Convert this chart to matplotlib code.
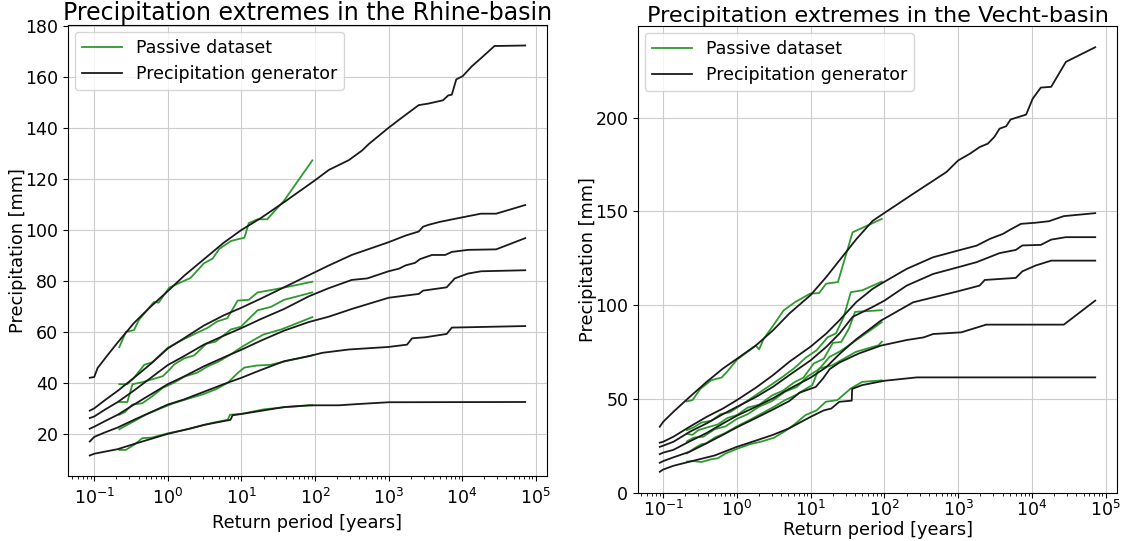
import matplotlib.pyplot as plt

# ---------------- Rhine basin ----------------
# precipitation generator (black), return period [years] / precipitation [mm]
rh_gen1_rp = [0.087, 0.1, 0.111, 0.151, 0.209, 0.347, 0.589, 1, 1.66, 3.09, 5.75, 10, 18.2, 38, 100, 155, 288, 437, 537,
              1000, 1380, 1860, 2570, 3470, 5500, 6460, 7240, 8320, 10200, 13500, 19000, 27500, 72000]
rh_gen1_mm = [42, 42.3, 45.8, 50.8, 55.9, 63.5, 70, 76, 82, 88.5, 95, 100, 104.6, 110.9, 119.5, 123.6, 127.4, 131.2, 133.7,
              140.1, 143.2, 146, 149, 149.6, 150.9, 152.8, 153.1, 159.1, 160.4, 164.2, 168, 172.2, 172.4]
rh_gen2_rp = [0.087, 0.1, 0.138, 0.209, 0.347, 0.589, 1, 1.66, 3.09, 5.75, 10, 18.2, 38, 83, 155, 316, 1000, 1700,
              2570, 2950, 3470, 5000, 9800, 18000, 29000, 72000]
rh_gen2_mm = [29.1, 30, 33.1, 36.9, 42, 47.5, 53.5, 57.5, 62.5, 66.5, 69.5, 73, 77.5, 82.3, 86.1, 90.2, 95.2, 97.8,
              99.4, 101.3, 102, 103.2, 104.9, 106.4, 106.4, 109.8]
rh_gen3_rp = [0.087, 0.1, 0.138, 0.209, 0.347, 0.589, 1, 1.66, 3.09, 5.75, 10, 18.2, 38, 83, 155, 316, 513, 1000,
              1380, 1700, 2290, 2690, 3890, 5890, 7240, 12000, 29000, 72000]
rh_gen3_mm = [26.2, 26.8, 29.4, 32.5, 37, 42, 47, 50.5, 55, 58.5, 61.5, 65, 69, 74, 77.2, 80.4, 81, 83.8,
              84.8, 86.1, 87.1, 88.6, 90.2, 90.2, 91.4, 92.2, 92.4, 96.8]
rh_gen4_rp = [0.087, 0.1, 0.138, 0.209, 0.347, 0.589, 1, 1.66, 3.09, 5.75, 10, 18.2, 38, 83, 155, 316, 1000, 1860,
              2570, 2950, 6170, 7940, 12000, 18200, 72000]
rh_gen4_mm = [22, 22.8, 24.9, 27.5, 31.5, 35.5, 39.5, 42.5, 46.5, 50, 53, 56.5, 60.5, 63.9, 66, 69, 73.4, 74.4,
              74.9, 76.2, 77.5, 81, 82.9, 83.8, 84.2]
rh_gen5_rp = [0.087, 0.1, 0.138, 0.209, 0.347, 0.589, 1, 1.66, 3.09, 5.75, 10, 18.2, 38, 83, 126, 288, 1000, 1780,
              2090, 3160, 6170, 7240, 72000]
rh_gen5_mm = [17, 18.8, 20.5, 22.5, 25.5, 28.5, 31.5, 33.5, 36.5, 39.5, 42, 45, 48.5, 50.5, 51.8, 53.1, 54.1, 55,
              57.5, 57.9, 59.2, 61.7, 62.3]
rh_gen6_rp = [0.087, 0.1, 0.209, 0.347, 0.589, 1, 1.66, 3.09, 5.75, 7.1, 7.6, 10, 18.2, 38, 83, 209, 389, 1000, 72000]
rh_gen6_mm = [11.5, 12.2, 14, 16, 18, 20, 21.5, 23.5, 25, 25.5, 27.3, 27.8, 29, 30.5, 31.2, 31.2, 31.7, 32.4, 32.5]

# passive dataset (green)
rh_pas1_rp = [0.219, 0.269, 0.347, 0.407, 0.646, 0.75, 1.05, 2.04, 3.09, 4.07, 5.01, 7.24, 11, 12.6, 16.6, 22.4, 38, 92]
rh_pas1_mm = [54, 60, 60.7, 64.8, 71.7, 71.5, 77.4, 81.2, 86.9, 88.8, 92.6, 95.7, 97, 102.7, 104.2, 104.2, 111.5, 127.3]
rh_pas2_rp = [0.219, 0.282, 0.347, 0.479, 0.617, 1, 1.66, 3.47, 4.68, 6.46, 8.9, 12.6, 16.6, 25.1, 38, 92]
rh_pas2_mm = [39.5, 39.5, 42, 47.1, 48.1, 53.8, 57.2, 61.6, 64.1, 65.4, 72.3, 72.6, 75.5, 76.4, 77.4, 79.7]
rh_pas3_rp = [0.219, 0.282, 0.331, 0.427, 0.851, 1, 1.23, 1.66, 2.29, 3.31, 4.47, 5.25, 7.24, 9.8, 16.6, 25.1, 38, 92]
rh_pas3_mm = [32.5, 32.5, 39.5, 40.1, 42.6, 44.5, 47.3, 49.6, 50.8, 55.3, 56.2, 57.8, 61, 62, 68.5, 69.8, 72.6, 75.5]
rh_pas4_rp = [0.219, 0.26, 0.33, 0.45, 0.6, 0.85, 1.2, 1.7, 2.5, 3.5, 5, 7, 10, 14, 20, 35, 92]
rh_pas4_mm = [27.5, 28.5, 31.5, 32, 34.5, 38, 40, 42.5, 44, 46.5, 48.5, 51, 54, 56.5, 59, 61, 65.8]
rh_pas5_rp = [0.219, 0.26, 0.35, 0.5, 0.8, 1.2, 2, 3, 4.5, 6.5, 9, 11, 16, 25, 40, 92]
rh_pas5_mm = [21.8, 23, 25, 27.5, 30, 32, 34, 35.5, 37.5, 40, 44, 46, 46.8, 47.1, 48.5, 50.8]
rh_pas6_rp = [0.219, 0.269, 0.348, 0.45, 0.6, 1, 2, 4, 6.5, 7, 10, 20, 40, 92]
rh_pas6_mm = [13.7, 13.7, 15.7, 18.3, 18.5, 20.2, 22, 24.3, 25.5, 27.5, 27.8, 29.6, 30.5, 31.2]

# ---------------- Vecht basin ----------------
ve_gen1_rp = [0.09, 0.1, 0.138, 0.229, 0.389, 0.646, 1, 1.82, 3.09, 5.13, 10, 16.2, 24.5, 41.7, 69.2, 107, 245, 692,
              1000, 1445, 1950, 2512, 3090, 3631, 4467, 5129, 8318, 10233, 13183, 18197, 28840, 72000]
ve_gen1_mm = [35.3, 37.9, 43.3, 51.2, 59.2, 66.3, 71.5, 78.7, 86.7, 95.6, 105.5, 115, 123.9, 135.3, 145, 150, 159.4, 171,
              177.2, 180.8, 184.3, 186.1, 189.7, 194.1, 195.4, 199, 201.6, 210.1, 216, 216.4, 229.7, 237.5]
ve_gen2_rp = [0.09, 0.1, 0.138, 0.229, 0.389, 0.646, 1, 1.82, 3.09, 5.13, 10, 16.2, 24.5, 41.7, 69.2, 89, 200, 457,
              1000, 1780, 2690, 4070, 5010, 7080, 11200, 17000, 26900, 72000]
ve_gen2_mm = [26.8, 27.3, 30, 35.3, 40.6, 45, 49.5, 56.2, 62.8, 69.9, 78, 84.9, 92, 101.8, 108.8, 111.4, 119.4, 125.6,
              129.2, 131.8, 135.4, 138.1, 140.2, 143.4, 144, 144.8, 147.5, 149.1]
ve_gen3_rp = [0.09, 0.1, 0.138, 0.229, 0.389, 0.646, 1, 1.82, 3.09, 5.13, 10, 16.2, 24.5, 37, 69, 100, 200, 457,
              1000, 1780, 3630, 6030, 7410, 13200, 18200, 28800, 72000]
ve_gen3_mm = [24.6, 25.2, 27.3, 32.6, 37.1, 42, 45.9, 51.2, 56.6, 62.8, 70.7, 77.8, 84.9, 93.8, 99.1, 102.5, 110.5, 116.7,
              120.3, 123, 127.8, 129.5, 131.9, 132.2, 135, 136.3, 136.3]
ve_gen4_rp = [0.09, 0.1, 0.138, 0.229, 0.389, 0.646, 1, 1.82, 3.09, 5.13, 10, 16.2, 24.5, 41.7, 69.2, 89, 245, 1000,
              1950, 2290, 6030, 7410, 11200, 18200, 72000]
ve_gen4_mm = [20.7, 21.5, 23, 27.5, 32, 37, 41.2, 46, 50.5, 55.5, 61.5, 67, 74, 82, 88.5, 91.8, 101.6, 107.5,
              110.5, 113.5, 114.6, 118.1, 121.2, 123.8, 123.8]
ve_gen5_rp = [0.09, 0.1, 0.138, 0.229, 0.389, 0.646, 1, 1.82, 3.09, 5.13, 7.1, 11.7, 14.7, 18.1, 24.5, 44.7, 89, 200,
              339, 457, 1100, 2400, 27000, 72000]
ve_gen5_mm = [16.1, 17, 19, 22, 26.5, 31, 35, 40, 44.5, 49, 53.5, 56.5, 61, 66, 69.5, 74.3, 78.5, 81.5,
              82.9, 84.7, 85.6, 89.7, 89.7, 102.5]
ve_gen6_rp = [0.09, 0.1, 0.138, 0.229, 0.5, 1, 2, 3.09, 5.13, 10, 15, 19, 24.5, 36, 36.5, 50, 100, 275, 72000]
ve_gen6_mm = [11.3, 12.5, 14.5, 16.7, 20, 24.6, 28.5, 31, 34.5, 40.6, 44, 45, 48.6, 49.2, 55.5, 57.5, 59.8, 61.6, 61.6]

ve_pas1_rp = [0.21, 0.25, 0.32, 0.45, 0.62, 0.75, 1, 1.8, 2.0, 2.3, 3.2, 4.3, 6.2, 9.8, 13, 16.2, 23.4, 37, 92]
ve_pas1_mm = [48.8, 49.5, 55.5, 60.1, 61.5, 65, 71, 78.5, 76.5, 82, 90, 97.3, 101.8, 106.2, 106.5, 111.5, 112.4, 138.9, 146]
ve_pas2_rp = [0.21, 0.26, 0.33, 0.45, 0.6, 0.8, 1.1, 1.5, 2.2, 3, 4.2, 6, 8.5, 12, 17, 22, 28, 35, 50, 92]
ve_pas2_mm = [33.5, 35, 37.5, 38.5, 42, 43, 46.5, 50, 54.5, 58, 62, 66.5, 72, 76, 83, 85, 93.8, 107, 108, 112.6]
ve_pas3_rp = [0.21, 0.25, 0.3, 0.4, 0.55, 0.75, 1, 1.4, 2, 3, 4.2, 6, 8, 11, 15, 20, 26, 33, 40, 92]
ve_pas3_mm = [31.5, 31, 33.5, 35, 36.5, 40, 41.5, 45.5, 47, 52, 54.5, 59, 61.5, 69, 71.5, 80, 80.5, 87.6, 96.5, 97.4]
ve_pas4_rp = [0.21, 0.26, 0.35, 0.5, 0.7, 1, 1.4, 2, 3, 4.5, 6.5, 9, 13, 18, 25, 40, 92]
ve_pas4_mm = [27.5, 29.5, 30, 34, 35.5, 39.5, 42, 46, 49, 54, 56.5, 62, 66, 72.5, 75.5, 81, 91]
ve_pas5_rp = [0.21, 0.27, 0.33, 0.38, 0.5, 0.7, 1, 1.5, 2.2, 3.2, 4.5, 6.5, 9, 10.5, 12.9, 19.5, 41, 83, 92]
ve_pas5_mm = [21.1, 24, 26, 26.4, 29.5, 32, 35.5, 39, 42.5, 46, 49.5, 52.5, 56, 57.4, 66.3, 68, 75.2, 78.7, 80.6]
ve_pas6_rp = [0.21, 0.26, 0.33, 0.45, 0.55, 0.7, 1, 1.5, 2.2, 3.2, 4.5, 6, 8.5, 12, 16, 23, 35, 50, 92]
ve_pas6_mm = [16.7, 17, 16.5, 18, 18.5, 21, 23.5, 26, 27.5, 29.5, 33, 36.5, 41.5, 44, 48.6, 49.5, 55.7, 59.2, 60]

basins = ['Rhine', 'Vecht']
gen = {
    'Rhine': [(rh_gen1_rp, rh_gen1_mm), (rh_gen2_rp, rh_gen2_mm), (rh_gen3_rp, rh_gen3_mm),
              (rh_gen4_rp, rh_gen4_mm), (rh_gen5_rp, rh_gen5_mm), (rh_gen6_rp, rh_gen6_mm)],
    'Vecht': [(ve_gen1_rp, ve_gen1_mm), (ve_gen2_rp, ve_gen2_mm), (ve_gen3_rp, ve_gen3_mm),
              (ve_gen4_rp, ve_gen4_mm), (ve_gen5_rp, ve_gen5_mm), (ve_gen6_rp, ve_gen6_mm)],
}
pas = {
    'Rhine': [(rh_pas1_rp, rh_pas1_mm), (rh_pas2_rp, rh_pas2_mm), (rh_pas3_rp, rh_pas3_mm),
              (rh_pas4_rp, rh_pas4_mm), (rh_pas5_rp, rh_pas5_mm), (rh_pas6_rp, rh_pas6_mm)],
    'Vecht': [(ve_pas1_rp, ve_pas1_mm), (ve_pas2_rp, ve_pas2_mm), (ve_pas3_rp, ve_pas3_mm),
              (ve_pas4_rp, ve_pas4_mm), (ve_pas5_rp, ve_pas5_mm), (ve_pas6_rp, ve_pas6_mm)],
}

W, H = 1123, 541
fig = plt.figure(figsize=(W / 100, H / 100), dpi=100)
# axes boxes in pixels: left, top, right, bottom
boxes = {'Rhine': (68, 25, 547, 476), 'Vecht': (638, 26, 1117, 493)}
xlabel_top = {'Rhine': 514, 'Vecht': 521}     # top edge of the x label, px
ylabel_right = {'Rhine': 27, 'Vecht': 597}    # right edge of the y label, px
xtick_pad = {'Rhine': 5, 'Vecht': 1.5}
title_size = {'Rhine': 17, 'Vecht': 16.1}

for basin in basins:
    l, t, r, b = boxes[basin]
    ax = fig.add_axes([l / W, 1 - b / H, (r - l) / W, (b - t) / H])
    for i, (rp, mm) in enumerate(pas[basin]):
        ax.plot(rp, mm, color='#2e9a2e', lw=1.3, label='Passive dataset' if i == 0 else None)
    for i, (rp, mm) in enumerate(gen[basin]):
        ax.plot(rp, mm, color='#1a1a1a', lw=1.3, label='Precipitation generator' if i == 0 else None)
    ax.set_xscale('log')
    if basin == 'Vecht':
        ax.set_ylim(bottom=0)
    ax.grid(True, color='#cccccc', lw=0.8)
    ax.set_title(f'Precipitation extremes in the {basin}-basin', fontsize=title_size[basin], pad=2)
    ax.set_xlabel('Return period [years]', fontsize=12.8)
    ax.set_ylabel('Precipitation [mm]', fontsize=12.8)
    ax.xaxis.set_label_coords(0.5, (b - xlabel_top[basin]) / (b - t))
    ax.yaxis.set_label_coords((ylabel_right[basin] - l) / (r - l), 0.5)
    ax.tick_params(labelsize=12.5)
    ax.tick_params(axis='x', which='major', pad=xtick_pad[basin])
    ax.legend(loc='upper left', fontsize=12.5, handlelength=2.3,
              borderaxespad=0.4, labelspacing=0.45)

fig.savefig('out.png', dpi=100)
